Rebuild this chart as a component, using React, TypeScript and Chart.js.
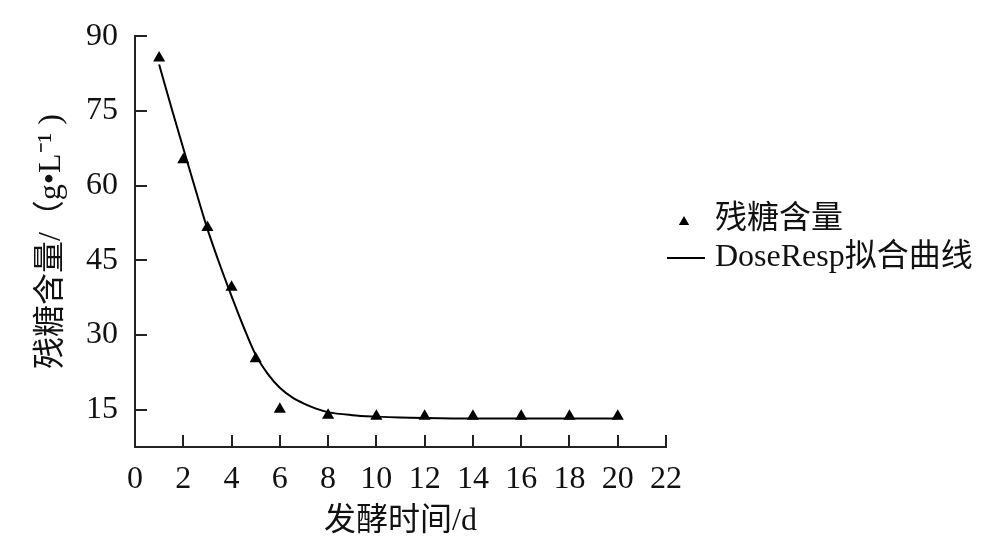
import React, { useEffect, useRef } from "react";
import { Chart, registerables } from "chart.js";

Chart.register(...registerables);

// ---- data ----
const days = [1, 2, 3, 4, 5, 6, 8, 10, 12, 14, 16, 18, 20];
const sugar = [85.6, 65.2, 51.6, 39.6, 25.2, 15.1, 13.9, 13.7, 13.7, 13.7, 13.7, 13.7, 13.7];
const fitX = [1, 1.5, 2, 2.5, 3, 3.5, 4, 4.5, 5, 5.5, 6, 6.5, 7, 7.5, 8, 9, 10, 11, 12, 14, 16, 18, 20];
const fitY = [84.3, 75.8, 67.5, 59.3, 51.3, 44.3, 37.8, 31.6, 26.0, 22.2, 19.4, 17.5, 16.2, 15.2, 14.5, 13.9, 13.6, 13.4, 13.3, 13.2, 13.2, 13.2, 13.2];
const yTicks = [15, 30, 45, 60, 75, 90];
const xTicks = [0, 2, 4, 6, 8, 10, 12, 14, 16, 18, 20, 22];
const seriesLabels = ["残糖含量", "DoseResp拟合曲线"];
const xTitle = "发酵时间/d";
const yTitle = "残糖含量/（g•L⁻¹ )";

const FONT = "'Liberation Serif', 'Noto Sans CJK SC', serif";
const INK = "#111111";
const AXIS = "#222222";
const FS = 32;

const decor = {
  id: "decor",
  afterDraw(chart: any) {
    const { ctx, chartArea, scales } = chart;
    const x = scales.x;
    const y = scales.y;
    ctx.save();
    ctx.strokeStyle = AXIS;
    ctx.lineWidth = 2;
    ctx.beginPath();
    yTicks.forEach((v) => {
      const py = Math.round(y.getPixelForValue(v));
      ctx.moveTo(chartArea.left, py);
      ctx.lineTo(chartArea.left + 12, py);
    });
    xTicks
      .filter((v) => v > 0)
      .forEach((v) => {
        const px = Math.round(x.getPixelForValue(v));
        ctx.moveTo(px, chartArea.bottom);
        ctx.lineTo(px, chartArea.bottom - 12);
      });
    ctx.stroke();

    // legend
    const lx = 715;
    const r1 = 220;
    const r2 = 258;
    ctx.fillStyle = "#000";
    const tr = 6;
    const cx = 684;
    const cy = r1 + 2;
    ctx.beginPath();
    ctx.moveTo(cx, cy - tr);
    ctx.lineTo(cx + tr * 0.866, cy + tr / 2);
    ctx.lineTo(cx - tr * 0.866, cy + tr / 2);
    ctx.closePath();
    ctx.fill();
    ctx.beginPath();
    ctx.strokeStyle = "#000";
    ctx.lineWidth = 2;
    ctx.moveTo(667, r2);
    ctx.lineTo(705, r2);
    ctx.stroke();
    ctx.fillStyle = INK;
    ctx.font = `${FS}px ${FONT}`;
    ctx.textAlign = "left";
    ctx.textBaseline = "middle";
    ctx.fillText(seriesLabels[0], lx, r1);
    ctx.fillText(seriesLabels[1], lx, r2);
    ctx.restore();
  },
};

export default function App() {
  const ref = useRef<HTMLCanvasElement | null>(null);
  useEffect(() => {
    if (!ref.current) return;
    const chart = new Chart(ref.current, {
      type: "scatter",
      data: {
        datasets: [
          {
            label: seriesLabels[0],
            data: days.map((d, i) => ({ x: d, y: sugar[i] })),
            pointStyle: "triangle",
            pointRadius: 7,
            pointBackgroundColor: "#000",
            pointBorderColor: "#000",
            pointBorderWidth: 0,
            showLine: false,
            order: 0,
          },
          {
            label: seriesLabels[1],
            data: fitX.map((d, i) => ({ x: d, y: fitY[i] })),
            showLine: true,
            pointRadius: 0,
            borderColor: "#000",
            borderWidth: 2,
            cubicInterpolationMode: "monotone",
            order: 1,
          },
        ],
      },
      options: {
        animation: false,
        responsive: true,
        maintainAspectRatio: false,
        layout: { padding: { top: 33, right: 334, bottom: 0, left: 0 } },
        plugins: { legend: { display: false }, tooltip: { enabled: false } },
        scales: {
          x: {
            type: "linear",
            min: 0,
            max: 22,
            afterFit: (s: any) => {
              s.height = 111;
            },
            afterBuildTicks: (s: any) => {
              s.ticks = xTicks.map((v) => ({ value: v }));
            },
            grid: { display: false, drawTicks: false },
            border: { display: true, color: AXIS, width: 2 },
            ticks: {
              autoSkip: false,
              maxRotation: 0,
              padding: 13,
              color: INK,
              font: { family: FONT, size: FS },
            },
            title: {
              display: true,
              text: xTitle,
              color: INK,
              font: { family: FONT, size: FS },
              padding: { top: 0, bottom: 17 },
            },
          },
          y: {
            type: "linear",
            min: 7.5,
            max: 90,
            afterFit: (s: any) => {
              s.width = 135;
            },
            afterBuildTicks: (s: any) => {
              s.ticks = yTicks.map((v) => ({ value: v }));
            },
            grid: { display: false, drawTicks: false },
            border: { display: true, color: AXIS, width: 2 },
            ticks: {
              padding: 17,
              color: INK,
              font: { family: FONT, size: FS },
            },
            title: {
              display: true,
              text: yTitle,
              color: INK,
              font: { family: FONT, size: FS },
              padding: { top: 32, bottom: 0 },
            },
          },
        },
      },
      plugins: [decor],
    });
    return () => chart.destroy();
  }, []);
  return (
    <div style={{ position: "absolute", left: 0, top: 0, width: 1000, height: 558, background: "#fff" }}>
      <canvas ref={ref} />
    </div>
  );
}
